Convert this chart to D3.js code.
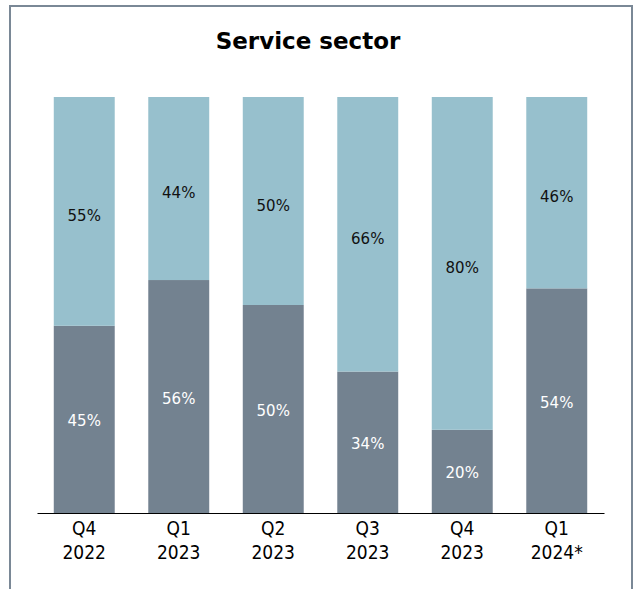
<!DOCTYPE html>
<html>
<head>
    <meta charset="utf-8">
    <script src="https://d3js.org/d3.v7.min.js"></script>
    <title>Service sector</title>
    <style>
        body { margin: 0; background: #fff; }
        svg { font-family: "DejaVu Sans", sans-serif; }
    </style>
</head>
<body>
    <svg id="chart" width="635" height="589"></svg>
    <script>
        // quarters (two-line labels)
        var quarters = ["Q4 2022", "Q1 2023", "Q2 2023", "Q3 2023", "Q4 2023", "Q1 2024*"]
        var tickTop = ["Q4", "Q1", "Q2", "Q3", "Q4", "Q1"]
        var tickBottom = ["2022", "2023", "2023", "2023", "2023", "2024*"]
        // share in percent, dark lower part and light upper part
        var lower = [45, 56, 50, 34, 20, 54]
        var upper = [55, 44, 50, 66, 80, 46]

        var colormap = { lower: "#738290", upper: "#97c0cd" }

        var margin = { top: 97, right: 31, bottom: 76, left: 37 }
        var W = 635, H = 589

        var svg = d3.select("#chart")

        // outer frame (bottom edge runs off the picture)
        svg.append("path")
            .attr("d", "M10,600 L10,6 L632,6 L632,600")
            .attr("fill", "none")
            .attr("stroke", "#7a8896")
            .attr("stroke-width", 2)

        svg.append("text")
            .attr("x", 308)
            .attr("y", 49)
            .attr("text-anchor", "middle")
            .attr("font-size", 23)
            .attr("font-weight", "bold")
            .attr("fill", "#000")
            .text("Service sector")

        var x = d3.scaleBand()
            .domain(quarters)
            .range([margin.left, W - margin.right])
            .paddingInner(0.355)
            .paddingOuter(0.1775)

        var y = d3.scaleLinear()
            .domain([0, 100])
            .range([H - margin.bottom, margin.top])

        var rows = quarters.map(function (q, i) {
            return { q: q, lower: lower[i], upper: upper[i] }
        })
        var stack = d3.stack().keys(["lower", "upper"])(rows)

        var layer = svg.append("g").selectAll("g")
            .data(stack)
            .enter().append("g")
            .attr("fill", function (d) { return colormap[d.key] })

        layer.selectAll("rect")
            .data(function (d) { return d })
            .enter().append("rect")
            .attr("x", function (d) { return x(d.data.q) })
            .attr("width", x.bandwidth())
            .attr("y", function (d) { return y(d[1]) })
            .attr("height", function (d) { return y(d[0]) - y(d[1]) })

        // value labels
        stack.forEach(function (s) {
            var dy = s.key == "lower" ? 7 : 9.5
            svg.append("g").selectAll("text")
                .data(s)
                .enter().append("text")
                .attr("x", function (d) { return x(d.data.q) + x.bandwidth() / 2 })
                .attr("y", function (d) { return (y(d[0]) + y(d[1])) / 2 + dy })
                .attr("text-anchor", "middle")
                .attr("font-size", 15)
                .attr("fill", s.key == "lower" ? "#fff" : "#111")
                .text(function (d) { return d.data[s.key] + "%" })
        })

        // x axis
        var axis = svg.append("g")
            .attr("transform", "translate(0," + y(0) + ")")
            .call(d3.axisBottom(x).tickSize(0).tickFormat(""))
        axis.select(".domain").attr("stroke", "#000").attr("stroke-width", 1)
        axis.selectAll(".tick").each(function (d, i) {
            var t = d3.select(this).append("text")
                .attr("fill", "#000")
                .attr("font-family", "'DejaVu Sans Condensed', 'DejaVu Sans', sans-serif")
                .attr("font-size", 19)
                .attr("text-anchor", "middle")
            t.append("tspan").attr("x", 0).attr("y", 22).text(tickTop[i])
            t.append("tspan").attr("x", 0).attr("y", 46).text(tickBottom[i])
        })
    </script>
</body>
</html>
